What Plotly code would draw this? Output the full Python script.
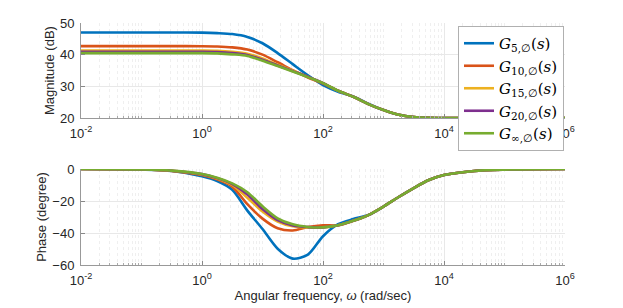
import plotly.graph_objects as go

omega = [0.01, 0.0316, 0.1, 0.316, 1, 1.78, 3.16, 5.62, 10, 17.8, 31.6, 56.2,
         100, 178, 316, 562, 1000, 1780, 3160, 5620, 10000, 31600, 1e5, 3.16e5, 1e6]

series_names = ["5", "10", "15", "20", "∞"]
colors = ["#0072BD", "#D95319", "#EDB120", "#7E2F8E", "#77AC30"]

mag_g5 = [47.0, 47.0, 47.0, 47.0, 46.95, 46.8, 46.5, 45.6, 43.6, 40.5, 37.0, 33.5,
          30.4, 28.3, 26.8, 24.5, 22.5, 21.0, 20.3, 20.05, 20.0, 20.0, 20.0, 20.0, 20.0]
mag_g10 = [42.7, 42.7, 42.7, 42.7, 42.68, 42.6, 42.3, 41.6, 40.0, 37.6, 35.1, 32.8,
           30.9, 28.6, 26.7, 24.4, 22.5, 21.0, 20.3, 20.05, 20.0, 20.0, 20.0, 20.0, 20.0]
mag_g15 = [41.3, 41.3, 41.3, 41.3, 41.28, 41.2, 40.9, 40.3, 38.8, 36.8, 34.9, 33.0,
           31.0, 28.6, 26.7, 24.4, 22.5, 21.0, 20.3, 20.05, 20.0, 20.0, 20.0, 20.0, 20.0]
mag_g20 = [40.9, 40.9, 40.9, 40.9, 40.88, 40.8, 40.5, 39.9, 38.4, 36.6, 34.8, 33.0,
           31.0, 28.6, 26.7, 24.4, 22.5, 21.0, 20.3, 20.05, 20.0, 20.0, 20.0, 20.0, 20.0]
mag_ginf = [40.5, 40.5, 40.5, 40.5, 40.48, 40.4, 40.1, 39.6, 38.1, 36.4, 34.7, 32.9,
            31.0, 28.6, 26.7, 24.4, 22.5, 21.0, 20.3, 20.05, 20.0, 20.0, 20.0, 20.0, 20.0]

ph_g5 = [0.0, -0.1, -0.4, -1.3, -4.5, -7.5, -13.0, -26.0, -37.5, -49.8, -56.0, -53.5,
         -42.0, -34.5, -31.3, -28.8, -23.5, -17.5, -11.9, -6.9, -3.8, -1.2, -0.4, -0.1, 0.0]
ph_g10 = [0.0, -0.1, -0.35, -1.2, -3.8, -6.5, -11.0, -22.0, -31.0, -37.0, -38.4, -36.3,
          -35.2, -35.2, -32.4, -28.8, -23.5, -17.5, -11.9, -6.9, -3.8, -1.2, -0.4, -0.1, 0.0]
ph_g15 = [0.0, -0.1, -0.3, -1.1, -3.4, -6.0, -10.0, -18.0, -26.5, -32.8, -35.8, -36.5,
          -36.5, -35.2, -32.4, -28.8, -23.5, -17.5, -11.9, -6.9, -3.8, -1.2, -0.4, -0.1, 0.0]
ph_g20 = [0.0, -0.1, -0.3, -1.05, -3.2, -5.7, -9.5, -16.0, -25.0, -32.0, -35.3, -36.3,
          -36.5, -35.2, -32.4, -28.8, -23.5, -17.5, -11.9, -6.9, -3.8, -1.2, -0.4, -0.1, 0.0]
ph_ginf = [0.0, -0.1, -0.3, -1.0, -3.1, -5.5, -9.0, -14.5, -23.3, -30.8, -34.6, -36.2,
           -36.5, -35.2, -32.4, -28.8, -23.5, -17.5, -11.9, -6.9, -3.8, -1.2, -0.4, -0.1, 0.0]

mags = [mag_g5, mag_g10, mag_g15, mag_g20, mag_ginf]
phases = [ph_g5, ph_g10, ph_g15, ph_g20, ph_ginf]

xtick_vals = [0.01, 1, 100, 10000, 1e6]
xtick_text = ["10<sup>-2</sup>", "10<sup>0</sup>", "10<sup>2</sup>", "10<sup>4</sup>", "10<sup>6</sup>"]

fig = go.Figure()
for i, name in enumerate(series_names):
    label = "<i>G</i><sub>%s,∅</sub>(<i>s</i>)" % name
    fig.add_trace(go.Scatter(x=omega, y=mags[i], mode="lines", name=label,
                             line=dict(color=colors[i], width=2.6, shape="spline", smoothing=0.8),
                             xaxis="x", yaxis="y"))
for i, name in enumerate(series_names):
    fig.add_trace(go.Scatter(x=omega, y=phases[i], mode="lines", showlegend=False,
                             line=dict(color=colors[i], width=2.6, shape="spline", smoothing=0.8),
                             xaxis="x2", yaxis="y2"))

axis_color = "#262626"
grid_color = "#e8e8e8"
FONT = "Liberation Sans, Arial"
tfont = dict(family=FONT, size=13, color=axis_color)
title_font = dict(family=FONT, size=13, color=axis_color)

minor_vals = [m * 10 ** e for e in range(-2, 6) for m in range(2, 10)] + [10 ** e for e in range(-1, 6, 2)]

# page body has an 8px margin, so the figure is 615x300 drawn at (8, 8)
W, H = 615, 300

def xaxis(anchor, title=None):
    d = dict(type="log", range=[-2, 6], domain=[73 / W, 557 / W], anchor=anchor,
             tickvals=xtick_vals, ticktext=xtick_text, ticks="inside", ticklen=4,
             tickcolor="#888", showline=True, linecolor="#999", linewidth=1,
             showgrid=True, gridcolor=grid_color, gridwidth=1, zeroline=False,
             tickfont=tfont, mirror=False, automargin=False, ticklabelstandoff=3,
             minor=dict(tickvals=minor_vals, ticks="inside", ticklen=2, tickcolor="#aaa",
                        showgrid=True, gridcolor="#efefef", griddash="dot", gridwidth=1))
    if title:
        d["title"] = dict(text=title, font=title_font, standoff=2)
    return d

def yaxis(domain, rng, tvals, title):
    return dict(domain=domain, range=rng, tickvals=tvals, automargin=False,
                ticks="inside", ticklen=4, tickcolor="#888", showline=True, linecolor="#999",
                showgrid=True, gridcolor=grid_color, zeroline=False, tickfont=tfont,
                ticklabelstandoff=3,
                title=dict(text=title, font=title_font, standoff=2))

fig.update_layout(
    width=W, height=H,
    margin=dict(l=0, r=0, t=0, b=0),
    paper_bgcolor="white", plot_bgcolor="white",
    xaxis=xaxis("y"),
    xaxis2=xaxis("y2", "Angular frequency, <i>ω</i> (rad/sec)"),
    yaxis=yaxis([1 - 110 / H, 1 - 15 / H], [20, 50], [20, 30, 40, 50], "Magnitude (dB)"),
    yaxis2=yaxis([1 - 257 / H, 1 - 161 / H], [-60, 0], [-60, -40, -20, 0], "Phase (degree)"),
    legend=dict(x=450 / W, y=1 - 18 / H, xanchor="left", yanchor="top",
                bgcolor="white", bordercolor="#b0b0b0", borderwidth=1,
                font=dict(family="DejaVu Serif, Liberation Serif", size=15, color="black"),
                tracegroupgap=0, itemwidth=30),
    showlegend=True,
)

fig.write_html("out.html")
